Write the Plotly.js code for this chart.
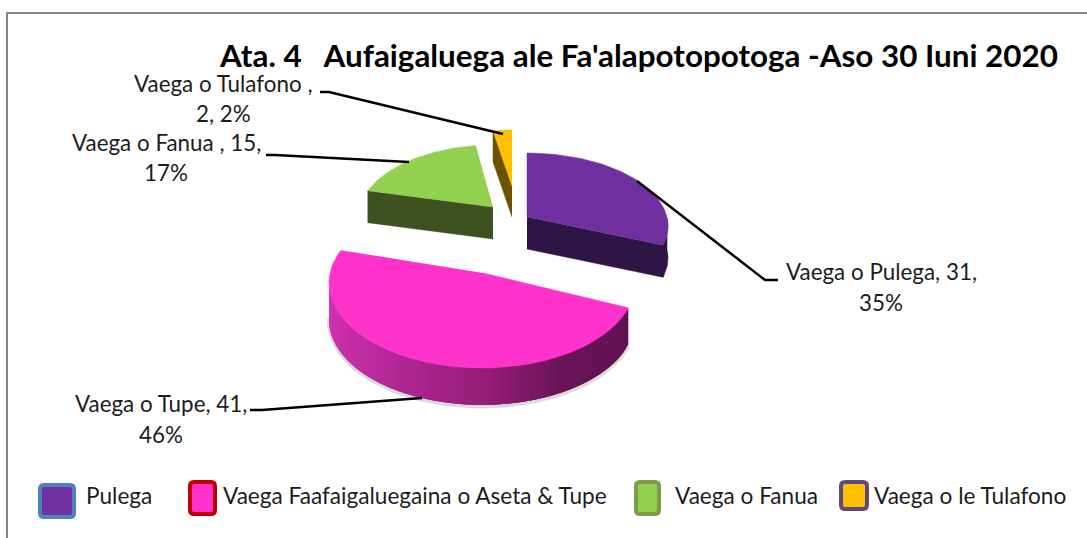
<!DOCTYPE html>
<html>
<head>
<meta charset="utf-8">
<script src="https://cdn.plot.ly/plotly-3.0.1.min.js"></script>
<style>html,body{margin:0;padding:0;background:#fff}#chart{width:1087px;height:538px}</style>
</head>
<body>
<div id="chart"></div>
<script>
// ---- data ----
const chartTitle = "Ata. 4\u00a0\u00a0 Aufaigaluega ale Fa'alapotopotoga -Aso 30 Iuni 2020";
const sliceNames = ["Vaega o Pulega", "Vaega o Tupe", "Vaega o Fanua ", "Vaega o Tulafono "];
const sliceValues = [31, 41, 15, 2];
const slicePercents = [35, 46, 17, 2];
const legendLabels = ["Pulega", "Vaega Faafaigaluegaina o Aseta & Tupe", "Vaega o Fanua", "Vaega o le Tulafono"];
const topColors = ["#7030a0", "#ff33cc", "#92d050", "#ffc000"];
const sideColors = ["#2e1545", null, "#3d5220", "#6b5200"];
const legendBorders = ["#4f81bd", "#c00000", "#7f9b45", "#604a7b"];

// ---- 3-D projection of each exploded slice (ellipse in pixel-scaled axes) ----
const geom = [
  {ax:527, ay:217, cx:527, cy:226, A:141, B:73, t0:0,    tScale:0.84, depth:32},
  {ax:483, ay:273, cx:482, cy:283, A:153, B:85, t0:107,  tScale:1.12, depth:37},
  {ax:493, ay:207, cx:493, cy:218, A:135, B:73, t0:292,  tScale:1.0,  depth:32},
  {ax:512, ay:186, cx:512, cy:203, A:135, B:73, t0:351.9,tScale:1.0,  depth:31}
];
const drawOrder = [3, 2, 0, 1];
const total = sliceValues.reduce((a, b) => a + b, 0);
const traces = [];
const rad = d => d * Math.PI / 180;
const pt = (g, t) => [g.cx + g.A * Math.sin(rad(t)), g.cy - g.B * Math.cos(rad(t))];
function poly(points, color, lineColor, width) {
  traces.push({
    type: "scatter", mode: "lines", fill: "toself", fillcolor: color,
    x: points.map(p => p[0]), y: points.map(p => p[1]),
    line: {color: lineColor || color, width: width === undefined ? 0.5 : width},
    hoverinfo: "skip", showlegend: false
  });
}
function lerpColor(stops, t) {
  for (let i = 0; i < stops.length - 1; i++) {
    const a = stops[i], b = stops[i + 1];
    if (t >= a[0] && t <= b[0]) {
      const f = (t - a[0]) / (b[0] - a[0]);
      const ch = k => Math.round(a[1][k] + (b[1][k] - a[1][k]) * f);
      return `rgb(${ch(0)},${ch(1)},${ch(2)})`;
    }
  }
  return "#000";
}
const magentaWall = [
  [106, [94, 18, 80]], [150, [106, 20, 88]], [180, [150, 30, 122]],
  [230, [190, 44, 160]], [272, [214, 52, 182]]
];
const spans = sliceValues.map(v => v / total * 360);
drawOrder.forEach(i => {
  const g = geom[i], sweep = spans[i] * g.tScale;
  const arc = [];
  for (let k = 0; k <= 60; k++) arc.push(pt(g, g.t0 + sweep * k / 60));
  const first = arc[0], last = arc[arc.length - 1];
  const down = p => [p[0], p[1] + g.depth];
  if (i === 0) {
    poly([[g.ax, g.ay], last, down(last), down([g.ax, g.ay])], sideColors[0]);
    const rim = arc.filter((p, k) => k >= 48);
    poly(rim.concat(rim.slice().reverse().map(down)), sideColors[0]);
  } else if (i === 2 || i === 3) {
    poly([[g.ax, g.ay], first, down(first), down([g.ax, g.ay])], sideColors[i]);
  } else {
    const tEnd = 272, n = 60;
    const shadow = [];
    for (let k = 0; k <= n; k++) { const p = pt(g, g.t0 + (tEnd - g.t0) * k / n); shadow.push([p[0], p[1] + g.depth + 1.5]); }
    traces.push({type: "scatter", mode: "lines", x: shadow.map(p => p[0]), y: shadow.map(p => p[1]),
      line: {color: "rgba(0,0,0,0.14)", width: 4}, hoverinfo: "skip", showlegend: false});
    // painted right to left with overlap so that no seams show between the shading bands
    for (let k = 0; k < n; k++) {
      const t1 = g.t0 + (tEnd - g.t0) * k / n;
      const t2 = Math.min(tEnd, g.t0 + (tEnd - g.t0) * (k + 3) / n);
      const p1 = pt(g, t1), p2 = pt(g, t2);
      poly([p1, pt(g, (t1 + t2) / 2), p2, down(p2), down(pt(g, (t1 + t2) / 2)), down(p1)],
           lerpColor(magentaWall, t1 + (tEnd - g.t0) / n / 2), null, 0);
    }
  }
  poly([[g.ax, g.ay]].concat(arc), topColors[i]);
});

// ---- text and furniture positions ----
const font = "Lato, 'Open Sans', sans-serif";
const annotations = [];
const addText = (text, x, y, size, anchor, bold) => annotations.push({
  xref: "x", yref: "y", x, y, text: bold ? `<b>${text}</b>` : text, showarrow: false,
  xanchor: anchor || "center", yanchor: "middle",
  font: {family: font, size, color: bold ? "#000" : "#1c1c1c"}
});
addText(chartTitle, 638, 55, 31.4, "center", true);
const labelLines = [
  [`${sliceNames[0]}, ${sliceValues[0]},`, `${slicePercents[0]}%`],
  [`${sliceNames[1]}, ${sliceValues[1]},`, `${slicePercents[1]}%`],
  [`${sliceNames[2]}, ${sliceValues[2]},`, `${slicePercents[2]}%`],
  [`${sliceNames[3]},`, `${sliceValues[3]}, ${slicePercents[3]}%`]
];
const labelPos = [[881, 271, 302], [161, 403, 434], [166, 142, 172], [223, 83, 113]];
labelLines.forEach((ls, i) => {
  addText(ls[0], labelPos[i][0], labelPos[i][1], 22.4);
  addText(ls[1], labelPos[i][0], labelPos[i][2], 22.4);
});
const legendText = [84, 221, 673, 872];
legendLabels.forEach((t, i) => addText(t, legendText[i], 495, 22.6, "left"));

const shapes = [];
const swatches = [[40, 74, 485, 517], [190, 215, 482, 514], [636, 659, 482, 514], [841, 867, 482, 509]];
swatches.forEach((s, i) => {
  const [a, b, c, d] = s, r = 4;
  shapes.push({
    type: "path", xref: "x", yref: "y",
    path: `M${a + r},${c} L${b - r},${c} Q${b},${c} ${b},${c + r} L${b},${d - r} Q${b},${d} ${b - r},${d} L${a + r},${d} Q${a},${d} ${a},${d - r} L${a},${c + r} Q${a},${c} ${a + r},${c} Z`,
    fillcolor: topColors[i], line: {color: legendBorders[i], width: 4}
  });
});
const leaders = [
  [[320, 92], [329, 92], [503, 134]],
  [[266, 155], [275, 155], [409, 162]],
  [[637, 181], [765, 280], [778, 280]],
  [[250, 410], [262, 410], [422, 398]]
];
leaders.forEach(l => shapes.push({
  type: "path", xref: "x", yref: "y",
  path: "M" + l.map(p => p.join(",")).join(" L"), line: {color: "#000", width: 2.5}
}));
shapes.push({
  type: "path", xref: "x", yref: "y", path: "M7,538 L7,13 L1087,13",
  line: {color: "#868686", width: 2}
});

const hidden = {visible: false, fixedrange: true, autorange: false};
Plotly.newPlot("chart", traces, {
  width: 1087, height: 538,
  margin: {l: 0, r: 0, t: 0, b: 0},
  paper_bgcolor: "#fff", plot_bgcolor: "#fff",
  xaxis: Object.assign({range: [0, 1087]}, hidden),
  yaxis: Object.assign({range: [538, 0]}, hidden),
  showlegend: false,
  annotations, shapes
}, {displayModeBar: false, staticPlot: true});
</script>
</body>
</html>
